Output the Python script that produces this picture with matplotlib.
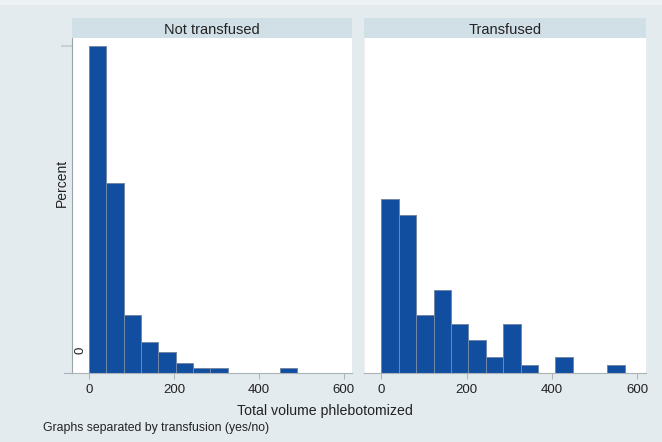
import numpy as np
import matplotlib
matplotlib.use('Agg')
import matplotlib.pyplot as plt
from matplotlib.patches import Rectangle
from matplotlib.lines import Line2D

plt.rcParams['font.family'] = ['Liberation Sans', 'DejaVu Sans']

# histogram data (percent per bin), bins start at 0
bin_width = 40.8
not_transfused = [50.0, 29.0, 8.9, 4.8, 3.2, 1.6, 0.8, 0.8, 0, 0, 0, 0.8]
transfused = [26.6, 24.1, 8.9, 12.7, 7.6, 5.1, 2.5, 7.6, 1.3, 0, 2.5, 0, 0, 1.3]
panel_titles = ['Not transfused', 'Transfused']
x_ticks = [0, 200, 400, 600]

bg = '#e4ebee'
strip_col = '#d1e0e7'
bar_col = '#114ea0'
edge_col = '#7388a8'
axis_col = '#a9b3b8'

W, H = 662, 442
fig = plt.figure(figsize=(W / 100, H / 100), dpi=100)
fig.patch.set_facecolor(bg)

# light band at top
fig.patches.append(Rectangle((0, 1 - 5 / H), 1, 5 / H, transform=fig.transFigure,
                             facecolor='#edf2f4', edgecolor='none', zorder=0))

def px_box(x0, y0, x1, y1):
    return [x0 / W, 1 - y1 / H, (x1 - x0) / W, (y1 - y0) / H]

panels = [(72, 352.3), (364.3, 645.7)]
data = [not_transfused, transfused]

for i, ((x0, x1), vals) in enumerate(zip(panels, data)):
    ax = fig.add_axes(px_box(x0, 38, x1, 373.3))
    ax.set_facecolor('white')
    vals = np.array(vals)
    lefts = np.arange(len(vals)) * bin_width
    keep = vals > 0
    ax.bar(lefts[keep], vals[keep], width=bin_width, align='edge',
           color=bar_col, edgecolor=edge_col, linewidth=0.7)
    ax.set_xlim(-40, 620)
    ax.set_ylim(0, 51.2)
    for s in ['top', 'right']:
        ax.spines[s].set_visible(False)
    ax.spines['bottom'].set_color(axis_col)
    ax.spines['bottom'].set_linewidth(0.8)
    ax.set_xticks(x_ticks)
    ax.set_xticklabels([str(t) for t in x_ticks], fontsize=9.5, color='#222222')
    ax.tick_params(axis='x', length=4, width=0.7, color=axis_col, pad=4)
    if i == 0:
        ax.spines['left'].set_color('#9aa3a8')
        ax.spines['left'].set_linewidth(0.8)
        ax.set_yticks([50])
        ax.set_yticklabels([''])
        ax.tick_params(axis='y', length=8, width=1.2, color='#c4cbcf')
        fig.text(80 / W, 1 - 350.7 / H, '0', fontsize=9.5, rotation=90,
                 ha='center', va='center', color='#222222')
        # axis line extends past the plot region
        fig.add_artist(Line2D([64 / W, x0 / W], [1 - 373.3 / H] * 2,
                              color=axis_col, linewidth=0.8))
    else:
        ax.spines['left'].set_color('#eef0f1')
        ax.set_yticks([])

    # strip header
    sax = fig.add_axes(px_box(x0, 18, x1, 38))
    sax.set_facecolor(strip_col)
    sax.set_xticks([])
    sax.set_yticks([])
    for s in sax.spines.values():
        s.set_visible(False)
    sax.text(0.5, 0.38, panel_titles[i], ha='center', va='center',
             fontsize=10.5, color='#222222', transform=sax.transAxes)

fig.text(62 / W, 1 - 183 / H, 'Percent', rotation=90, ha='center', va='center',
         fontsize=10, color='#222222')
fig.text(325 / W, 1 - 411 / H, 'Total volume phlebotomized', ha='center', va='center',
         fontsize=10.2, color='#222222')
fig.text(43 / W, 1 - 428 / H, 'Graphs separated by transfusion (yes/no)', ha='left',
         va='center', fontsize=8.8, color='#222222')

fig.savefig('out.png', dpi=100, facecolor=fig.get_facecolor())
